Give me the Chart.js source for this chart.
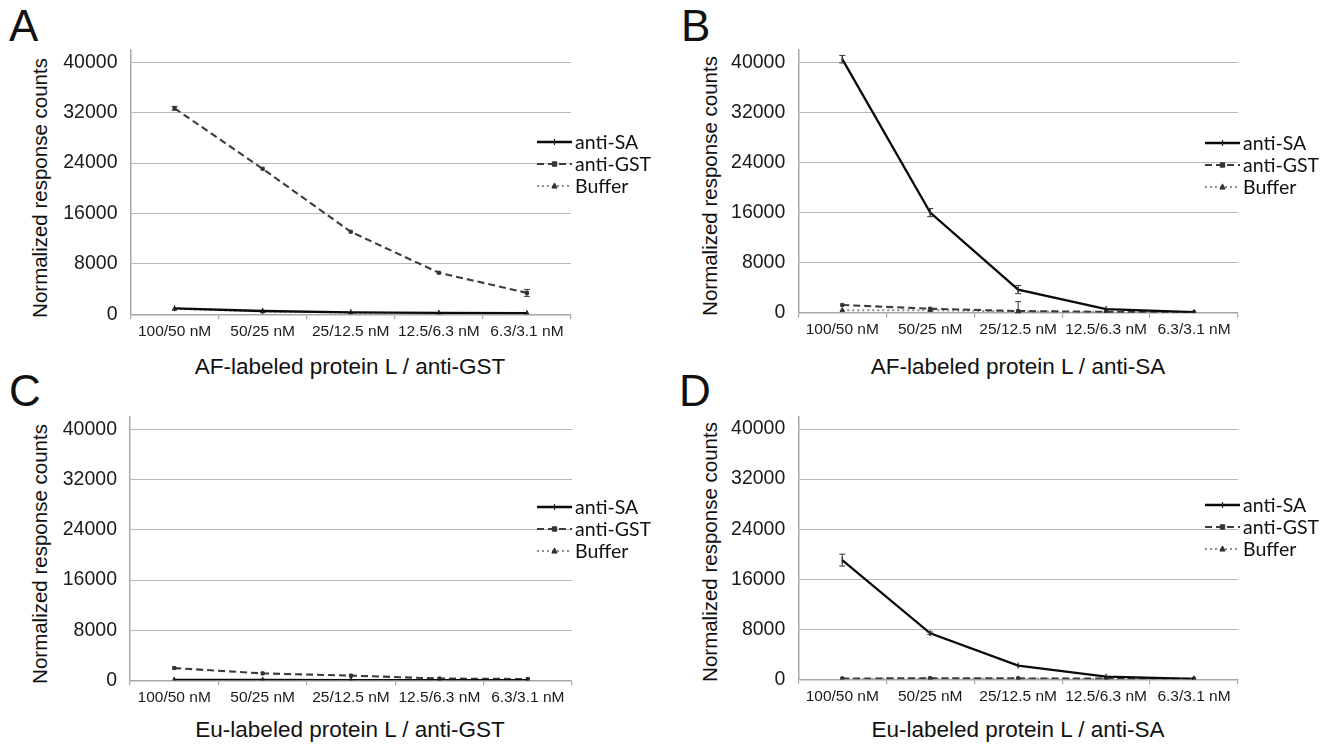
<!DOCTYPE html>
<html><head><meta charset="utf-8">
<script src="https://cdn.jsdelivr.net/npm/chart.js@4.4.1/dist/chart.umd.min.js"></script>
<style>
html,body{margin:0;padding:0;background:#fff;}
body{width:1329px;height:745px;position:relative;overflow:hidden;font-family:"Liberation Sans",Arial,sans-serif;color:#111;}
canvas{position:absolute;}
.t{position:absolute;white-space:nowrap;line-height:1;font-size:22.5px;transform:translate(-50%,-50%);}
.yt{transform:translate(-50%,-50%) rotate(-90deg);font-size:20.5px;}
.L{position:absolute;font-size:44px;line-height:44px;}
</style></head><body>
<div class="L" style="left:9px;top:4px">A</div>
<div class="L" style="left:681px;top:4px">B</div>
<div class="L" style="left:9px;top:369px">C</div>
<div class="L" style="left:679px;top:369px">D</div>
<div class="t yt" style="left:40px;top:188px">Normalized response counts</div>
<div class="t yt" style="left:710px;top:186px">Normalized response counts</div>
<div class="t yt" style="left:40px;top:554px">Normalized response counts</div>
<div class="t yt" style="left:710px;top:552px">Normalized response counts</div>
<div class="t" style="left:350px;top:367px">AF-labeled protein L / anti-GST</div>
<div class="t" style="left:1018px;top:367px">AF-labeled protein L / anti-SA</div>
<div class="t" style="left:350px;top:730px">Eu-labeled protein L / anti-GST</div>
<div class="t" style="left:1018px;top:730px">Eu-labeled protein L / anti-SA</div>
<canvas id="cA" width="664" height="372" style="left:0;top:0"></canvas>
<canvas id="cB" width="665" height="372" style="left:664px;top:0"></canvas>
<canvas id="cC" width="664" height="373" style="left:0;top:372px"></canvas>
<canvas id="cD" width="665" height="373" style="left:664px;top:372px"></canvas>
<script>
// ---- data ----
const categories = ['100/50 nM', '50/25 nM', '25/12.5 nM', '12.5/6.3 nM', '6.3/3.1 nM'];
const seriesNames = ['anti-SA', 'anti-GST', 'Buffer'];
const yTickValues = [0, 8000, 16000, 24000, 32000, 40000];
const yAxisMax = 42000;

// Panel A: AF-labeled protein L / anti-GST
const aAntiSA = [950, 520, 320, 220, 180];
const aAntiGST = [32700, 23100, 13100, 6600, 3400];
const aBuffer = [850, 450, 260, 170, 130];
const aAntiSAErr = [80, 50, 40, 30, 30];
const aAntiGSTErr = [300, 120, 120, 150, 550];
const aBufferErr = [60, 40, 30, 20, 20];

// Panel B: AF-labeled protein L / anti-SA
const bAntiSA = [40500, 16000, 3700, 600, 100];
const bAntiGST = [1250, 650, 280, 150, 60];
const bBuffer = [420, 420, 200, 100, 50];
const bAntiSAErr = [600, 650, 650, 150, 80];
const bAntiGSTErr = [100, 150, 1500, 100, 50];
const bBufferErr = [50, 50, 40, 30, 20];

// Panel C: Eu-labeled protein L / anti-GST
const cAntiSA = [60, 50, 40, 40, 30];
const cAntiGST = [1950, 1100, 750, 280, 200];
const cBuffer = [40, 40, 30, 30, 30];
const cAntiSAErr = [20, 20, 20, 20, 20];
const cAntiGSTErr = [80, 60, 60, 100, 40];
const cBufferErr = [20, 20, 20, 20, 20];

// Panel D: Eu-labeled protein L / anti-SA
const dAntiSA = [19050, 7350, 2200, 420, 80];
const dAntiGST = [120, 160, 140, 100, 60];
const dBuffer = [60, 80, 80, 60, 40];
const dAntiSAErr = [950, 200, 150, 80, 50];
const dAntiGSTErr = [30, 30, 30, 30, 30];
const dBufferErr = [20, 20, 20, 20, 20];

// ---- styles ----
const seriesStyles = [
  {borderColor: '#0a0a0a', borderWidth: 2.3, borderDash: [], pointStyle: 'line', rotation: 90, pointRadius: 3, pointBorderWidth: 1.2, pointBorderColor: '#222', pointBackgroundColor: '#222'},
  {borderColor: '#3c3c3c', borderWidth: 2.1, borderDash: [7, 4], pointStyle: 'rect', rotation: 0, pointRadius: 2.2, pointBorderWidth: 1, pointBorderColor: '#333', pointBackgroundColor: '#333'},
  {borderColor: '#8c8c8c', borderWidth: 2, borderDash: [2, 3], pointStyle: 'triangle', rotation: 0, pointRadius: 2.6, pointBorderWidth: 1, pointBorderColor: '#333', pointBackgroundColor: '#333'}
];

const errorBarPlugin = {
  id: 'errbars',
  afterDatasetsDraw(chart, args, opts) {
    const ctx = chart.ctx, ys = chart.scales.y;
    ctx.save();
    ctx.strokeStyle = '#333';
    ctx.lineWidth = 1;
    chart.data.datasets.forEach((ds, i) => {
      const errs = opts.errors[i];
      const meta = chart.getDatasetMeta(i);
      meta.data.forEach((pt, j) => {
        const e = errs[j];
        if (!e) return;
        const v = ds.data[j];
        const y1 = ys.getPixelForValue(Math.max(v - e, 0));
        const y2 = ys.getPixelForValue(v + e);
        if (Math.abs(y1 - y2) < 2) return;
        ctx.beginPath();
        ctx.moveTo(pt.x, y1); ctx.lineTo(pt.x, y2);
        ctx.moveTo(pt.x - 3, y1); ctx.lineTo(pt.x + 3, y1);
        ctx.moveTo(pt.x - 3, y2); ctx.lineTo(pt.x + 3, y2);
        ctx.stroke();
      });
    });
    ctx.restore();
  }
};

function drawMarker(ctx, st, x, y) {
  const r = st.pointRadius;
  ctx.save();
  ctx.fillStyle = st.pointBackgroundColor;
  ctx.strokeStyle = st.pointBorderColor;
  ctx.lineWidth = st.pointBorderWidth;
  ctx.setLineDash([]);
  ctx.beginPath();
  if (st.pointStyle === 'line') {
    ctx.moveTo(x, y - r); ctx.lineTo(x, y + r); ctx.stroke();
  } else if (st.pointStyle === 'rect') {
    ctx.rect(x - r, y - r, 2 * r, 2 * r); ctx.fill(); ctx.stroke();
  } else {
    ctx.moveTo(x, y - r * 1.2); ctx.lineTo(x + r, y + r * 0.8); ctx.lineTo(x - r, y + r * 0.8); ctx.closePath(); ctx.fill(); ctx.stroke();
  }
  ctx.restore();
}

const legendPlugin = {
  id: 'sideLegend',
  afterDraw(chart, args, opts) {
    const ctx = chart.ctx;
    ctx.save();
    chart.data.datasets.forEach((ds, i) => {
      const st = seriesStyles[i];
      const y = opts.y + i * opts.gap;
      ctx.strokeStyle = st.borderColor;
      ctx.lineWidth = st.borderWidth;
      ctx.setLineDash(st.borderDash);
      ctx.beginPath();
      ctx.moveTo(opts.x, y); ctx.lineTo(opts.x + opts.len, y);
      ctx.stroke();
      drawMarker(ctx, st, opts.x + opts.len / 2, y);
      ctx.setLineDash([]);
      ctx.fillStyle = '#111';
      ctx.font = '19.5px Lato, "Open Sans", sans-serif';
      ctx.textBaseline = 'middle';
      ctx.textAlign = 'left';
      ctx.fillText(ds.label, opts.x + opts.len + 3, y + 1);
    });
    ctx.restore();
  }
};

function makePanel(id, values, errors, area, legend) {
  const canvas = document.getElementById(id);
  const W = canvas.width, H = canvas.height;
  const datasets = values.map((vals, i) => Object.assign({
    label: seriesNames[i],
    data: vals,
    fill: false,
    tension: 0,
    pointHoverRadius: 3
  }, seriesStyles[i]));
  return new Chart(canvas, {
    type: 'line',
    data: {labels: categories, datasets},
    plugins: [errorBarPlugin, legendPlugin],
    options: {
      responsive: false,
      animation: false,
      devicePixelRatio: 1,
      layout: {padding: {left: 0, top: area.top, right: W - area.right, bottom: 0}},
      plugins: {
        legend: {display: false},
        tooltip: {enabled: false},
        errbars: {errors},
        sideLegend: legend
      },
      scales: {
        x: {
          type: 'category',
          offset: true,
          afterFit(s) { s.height = H - area.bottom; },
          grid: {display: true, drawOnChartArea: false, drawTicks: true, tickLength: 5, offset: true, color: '#a8a8a8', lineWidth: 1.2},
          border: {display: true, color: '#a8a8a8', width: 1.5},
          ticks: {color: '#1a1a1a', font: {family: '"Liberation Sans", Arial, sans-serif', size: 15.5}, padding: 3, maxRotation: 0, autoSkip: false}
        },
        y: {
          min: 0,
          max: yAxisMax,
          afterFit(s) { s.width = area.left; },
          afterBuildTicks(s) { s.ticks = yTickValues.map(v => ({value: v})); },
          grid: {color: '#b8b8b8', lineWidth: 1, drawTicks: false},
          border: {display: true, color: '#a8a8a8', width: 1.5},
          ticks: {color: '#1a1a1a', font: {family: '"Liberation Sans", Arial, sans-serif', size: 19.5}, padding: 13, callback: v => String(v)}
        }
      }
    }
  });
}

makePanel('cA', [aAntiSA, aAntiGST, aBuffer], [aAntiSAErr, aAntiGSTErr, aBufferErr],
  {left: 130.5, right: 571, top: 49.7, bottom: 314.3}, {x: 537, y: 142, gap: 22, len: 35});
makePanel('cB', [bAntiSA, bAntiGST, bBuffer], [bAntiSAErr, bAntiGSTErr, bBufferErr],
  {left: 134.3, right: 574, top: 49.8, bottom: 312.8}, {x: 541, y: 143, gap: 22, len: 35});
makePanel('cC', [cAntiSA, cAntiGST, cBuffer], [cAntiSAErr, cAntiGSTErr, cBufferErr],
  {left: 130, right: 572, top: 45.2, bottom: 308.3}, {x: 537, y: 135, gap: 22, len: 35});
makePanel('cD', [dAntiSA, dAntiGST, dBuffer], [dAntiSAErr, dAntiGSTErr, dBufferErr],
  {left: 134.3, right: 574, top: 44.5, bottom: 307.3}, {x: 541, y: 133, gap: 22, len: 35});
</script>
</body></html>
